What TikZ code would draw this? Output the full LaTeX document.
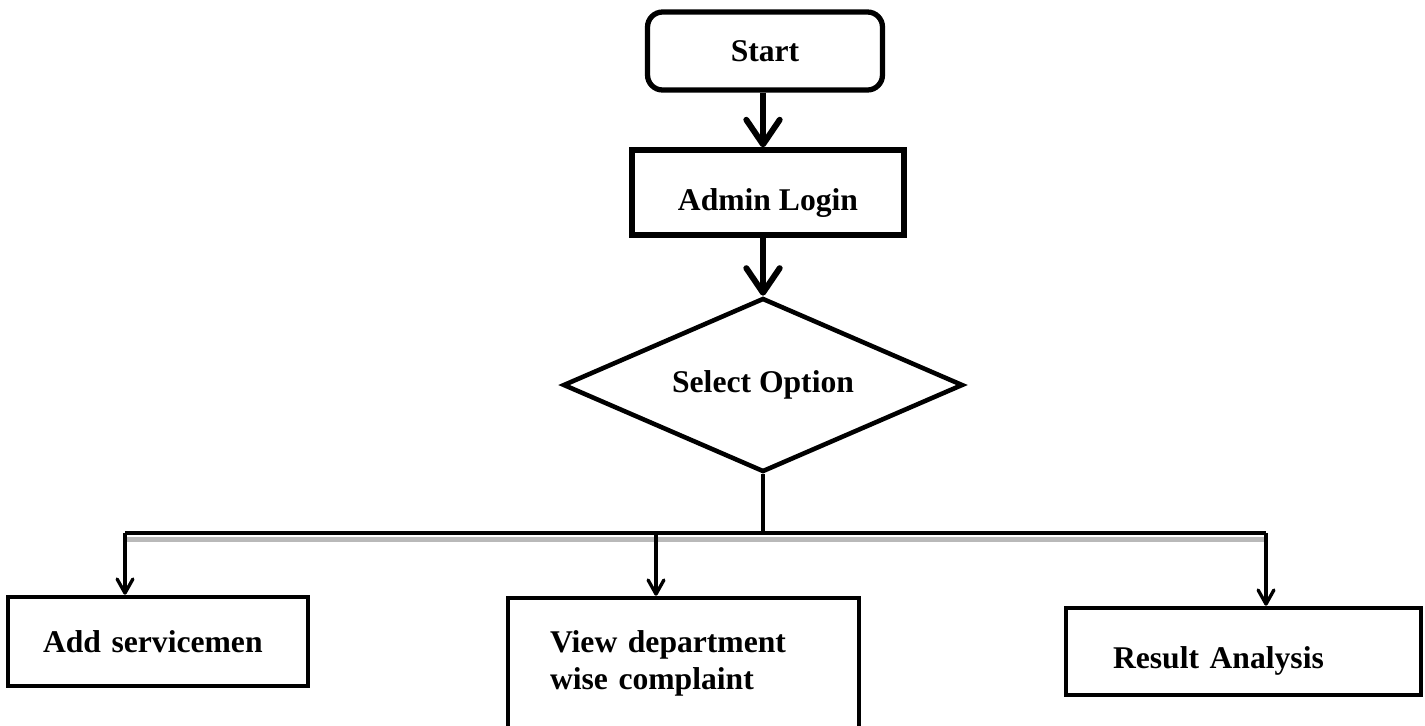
\documentclass[tikz,border=0pt]{standalone}
\usepackage{fontspec}
\setmainfont{Liberation Serif}
\usetikzlibrary{arrows.meta, positioning, shapes.geometric}

\begin{document}
\begin{tikzpicture}[x=0.02cm, y=-0.02cm,
    every node/.style={font=\bfseries\fontsize{18}{20.7}\selectfont},
    box/.style={draw, rectangle, line width=2.6pt, align=left},
    flow/.style={line width=3.4pt, -{Straight Barb[length=14pt, width=19pt, round]}},
    drop/.style={line width=1.9pt, -{Straight Barb[length=8pt, width=9pt, round]}},
    bus/.style={line width=2.8pt, preaction={draw, gray!55, line width=2.6pt, transform canvas={yshift=-3.6pt}}}]
  \useasboundingbox (0,0) rectangle (1425,725);

  % Nodes
  \node[box, rounded corners=0.3cm, line width=3pt, minimum width=4.7cm, minimum height=1.56cm] (start) at (765,51) {Start};
  \node[box, line width=3pt, minimum width=5.44cm, minimum height=1.7cm, text height=24pt, text depth=4pt] (login) at (768,192.5) {Admin Login};
  \node[draw, diamond, aspect=2.3, line width=2.6pt, minimum width=8cm, minimum height=3.48cm] (option) at (763,385) {Select Option};
  \node[box, text width=4.6cm, inner xsep=0.7cm, minimum height=1.78cm] (add) at (158,641.5) {Add servicemen};
  \node[box, text width=5.34cm, inner xsep=0.84cm, minimum height=2.62cm] (view) at (683.5,663.5) {View department\\wise complaint};
  \node[box, text width=5.22cm, inner xsep=0.94cm, minimum height=1.74cm, text height=23pt, text depth=4pt] (result) at (1243.5,651.5) {Result Analysis};

  % Bus coordinates
  \coordinate (busC) at (763,533);
  \coordinate (busL) at (125,533);
  \coordinate (busM) at (656,533);
  \coordinate (busR) at (1266,533);

  % Arrows
  \draw[flow] (option.north |- start.south) -- (option.north |- login.north);
  \draw[flow] (option.north |- login.south) -- (option.north);
  \draw[line width=1.9pt] (option.south) -- (busC);
  \draw[bus] (busL) -- (busR);
  \draw[drop] (busL) -- (busL |- add.north);
  \draw[drop] (busM) -- (busM |- view.north);
  \draw[drop] (busR) -- (busR |- result.north);
\end{tikzpicture}
\end{document}
